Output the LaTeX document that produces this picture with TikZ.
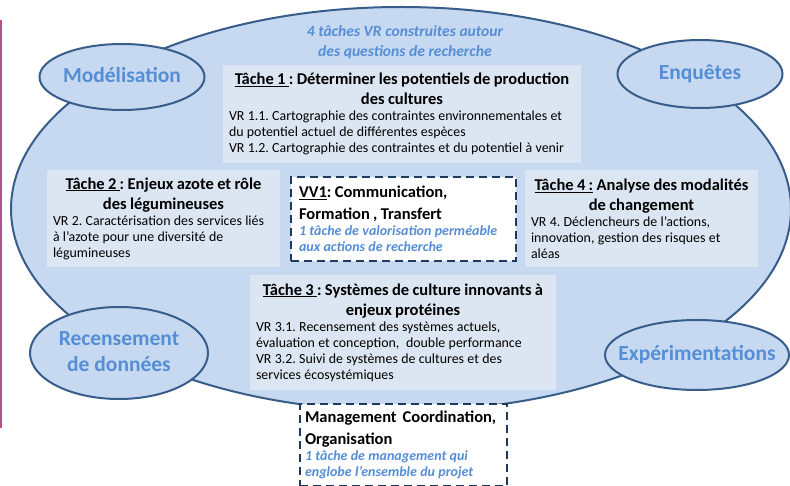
\documentclass[tikz,border=0pt]{standalone}
\usepackage{fontspec}
\setmainfont{Carlito}
\usetikzlibrary{shapes,positioning,calc}

\definecolor{ellfill}{HTML}{C6D9F1}
\definecolor{ellline}{HTML}{385D8A}
\definecolor{boxfill}{HTML}{DCE6F2}
\definecolor{vrblue}{HTML}{558ED5}
\definecolor{dashnavy}{HTML}{1F3A5F}
\definecolor{sidepink}{HTML}{B5508A}

\newcommand{\tachehead}[1]{{\centering\fontsize{16.5}{20}\selectfont\bfseries #1\par}}
\newcommand{\vvhead}[1]{{\fontsize{16.5}{21.5}\selectfont\bfseries #1\par}}
\newcommand{\vrtext}[1]{{\fontsize{13.9}{16}\selectfont #1\par}}
\newcommand{\vvnote}[1]{{\color{vrblue}\fontsize{14}{16}\selectfont\bfseries\itshape #1\par}}
\newcommand{\themetxt}[1]{\makebox[0pt]{\begin{tabular}{@{}c@{}}#1\end{tabular}}}
\frenchspacing

\begin{document}
\begin{tikzpicture}[x=1pt,y=-1pt,
  themeell/.style={ellipse,draw=ellline,fill=ellfill,line width=2pt,text=vrblue,
    font=\fontsize{21.5}{26}\selectfont\bfseries,inner sep=0pt},
  tachebox/.style={rectangle,fill=boxfill,inner xsep=6pt,inner ysep=0pt,align=left},
  vvbox/.style={rectangle,fill=white,draw=dashnavy,line width=2.2pt,
    dash pattern=on 8pt off 5pt,inner xsep=8pt,inner ysep=0pt,align=left}]

\useasboundingbox (0,0) rectangle (790,486);

\draw[sidepink,line width=1.5pt] (0.75,20) -- (0.75,428);

% big ellipse
\draw[ellline,fill=ellfill,line width=2pt] (401,209) ellipse [x radius=390pt,y radius=202pt];

\node[font=\fontsize{15.6}{20}\selectfont\bfseries\itshape,text=vrblue,align=center] (titre) at (405,42)
  {4 tâches VR construites autour\\des questions de recherche};

% themes
\node[themeell,minimum width=165pt,minimum height=66pt] (model) at (122,77) {\themetxt{Modélisation}};
\node[themeell,minimum width=165pt,minimum height=68pt] (enq) at (700,74) {\themetxt{Enquêtes}};
\node[themeell,minimum width=178pt,minimum height=92pt] (recens) at (119,353) {\themetxt{Recensement\\de données}};
\node[themeell,minimum width=184pt,minimum height=70pt] (exper) at (697,355) {\themetxt{Expérimentations}};

% taches
\node[tachebox,minimum width=358pt,minimum height=98pt,text width=346pt] (t1) at (402,114)
  {\tachehead{\underline{Tâche 1 }: Déterminer les potentiels de production\\des cultures}
   \vrtext{VR 1.1. Cartographie des contraintes environnementales et\\
   du potentiel actuel de différentes espèces\\
   VR 1.2. Cartographie des contraintes et du potentiel à venir}};

\node[tachebox,minimum width=233pt,minimum height=97pt,text width=221pt] (t2) at (163.5,218.5)
  {\tachehead{\underline{Tâche 2 }: Enjeux azote et rôle\\des légumineuses}
   \vrtext{VR 2. Caractérisation des services liés\\
   à l’azote pour une diversité de\\
   légumineuses}};

\node[vvbox,minimum width=225pt,minimum height=84pt,text width=209pt] (vv1) at (403.5,219)
  {\vvhead{\underline{VV1}: Communication,\\Formation , Transfert}
   \vvnote{1 tâche de valorisation perméable\\aux actions de recherche}};

\node[tachebox,minimum width=233pt,minimum height=97pt,text width=221pt] (t4) at (641.5,218.5)
  {\tachehead{\underline{Tâche 4 :} Analyse des modalités\\de changement}
   \vrtext{VR 4. Déclencheurs de l’actions,\\
   innovation, gestion des risques et\\
   aléas}};

\node[tachebox,minimum width=306pt,minimum height=115pt,text width=294pt] (t3) at (403,332.5)
  {\tachehead{\underline{Tâche 3 }: Systèmes de culture innovants à\\enjeux protéines}
   \vrtext{VR 3.1. Recensement des systèmes actuels,\\
   évaluation et conception,\ \ double performance\\
   VR 3.2. Suivi de systèmes de cultures et des\\
   services écosystémiques}};

\node[vvbox,inner xsep=5pt,minimum width=207pt,minimum height=82pt,text width=197pt] (manag) at (403.5,445)
  {\vvhead{Management\hspace{6pt}Coordination,\\Organisation}
   \vvnote{1 tâche de management qui\\englobe l’ensemble du projet}};
\end{tikzpicture}
\end{document}
